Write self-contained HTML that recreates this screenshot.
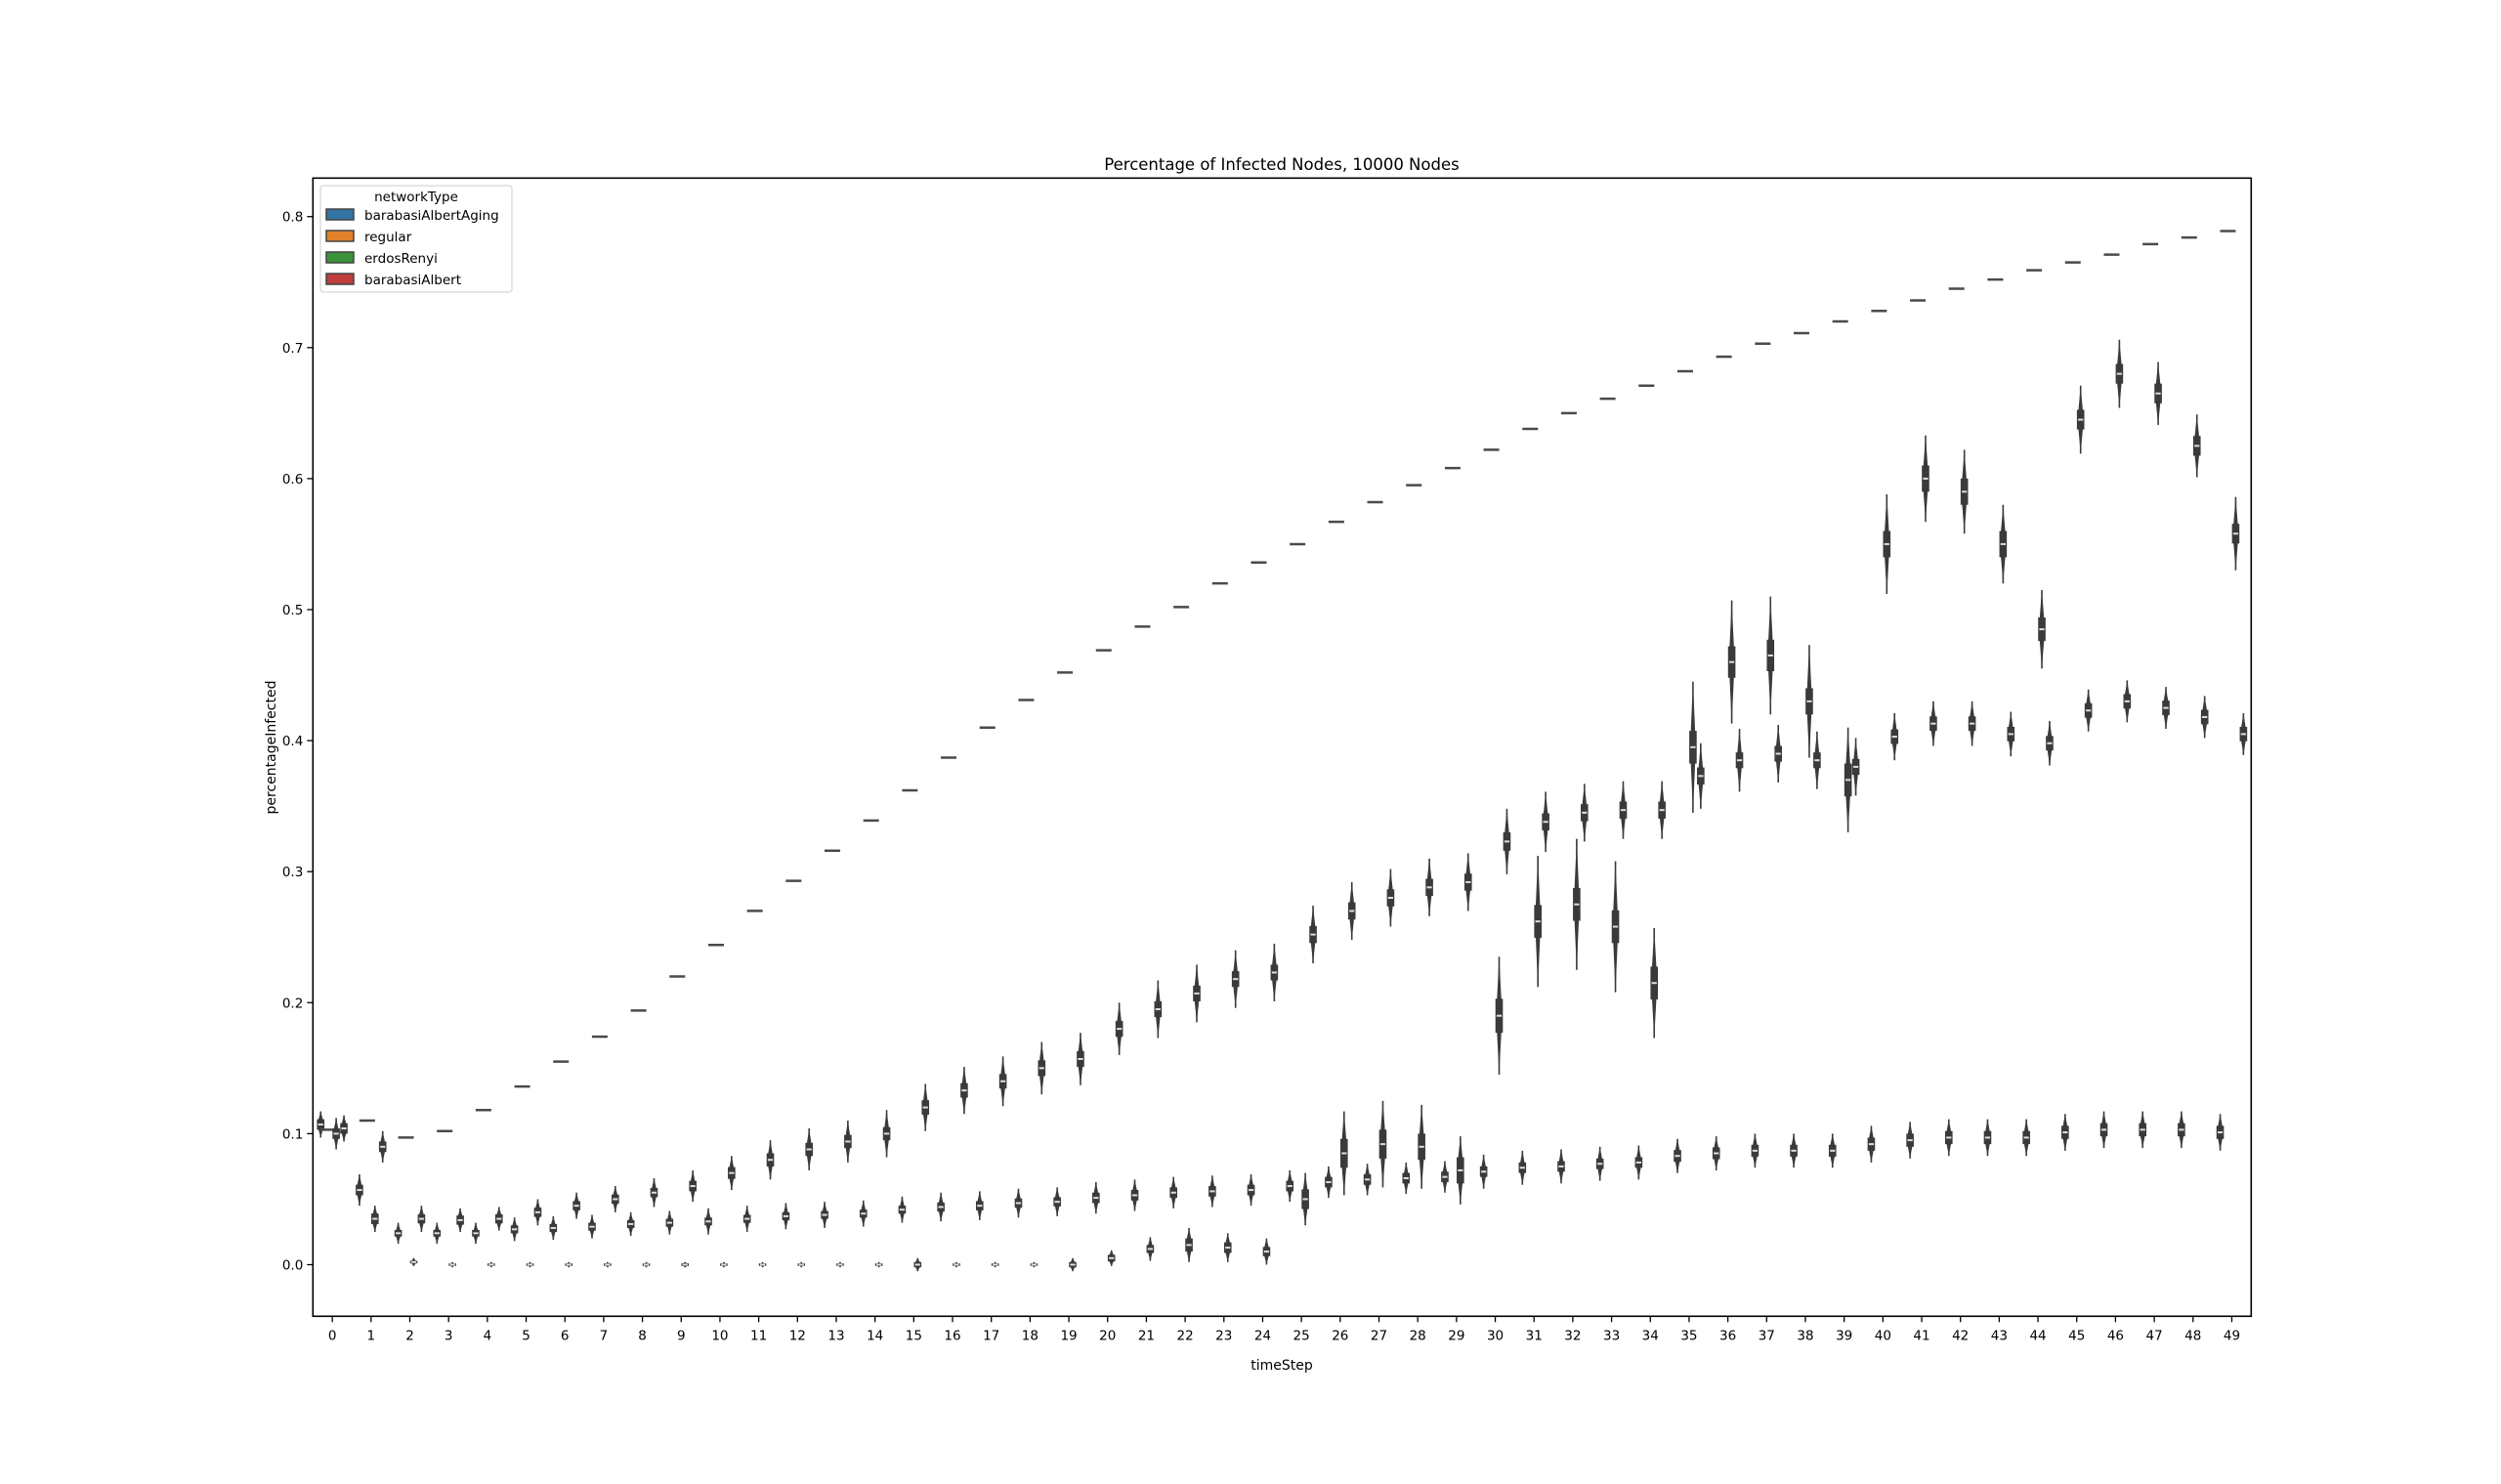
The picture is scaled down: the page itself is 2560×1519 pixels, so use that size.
<!DOCTYPE html>
<html><head><meta charset="utf-8"><style>
html,body{margin:0;padding:0;background:#fff;}
svg text{font-family:"DejaVu Sans","Liberation Sans",sans-serif;fill:#000;}
</style></head><body>
<svg id="chart" width="2560" height="1514" viewBox="0 0 2560 1514" xmlns="http://www.w3.org/2000/svg">
<rect x="0" y="0" width="2560" height="1514" fill="#fff"/>
<text x="1312" y="174" font-size="16.5" text-anchor="middle">Percentage of Infected Nodes, 10000 Nodes</text>
<g id="marks"></g>
<g id="axes"></g>
<rect x="320.3" y="182.3" width="1984" height="1165" fill="none" stroke="#000" stroke-width="1.6"/>
<text x="1312" y="1402" font-size="14" text-anchor="middle">timeStep</text>
<text x="0" y="0" font-size="14" text-anchor="middle" transform="translate(282,765) rotate(-90)">percentageInfected</text>
<g>
<rect x="328" y="190" width="196" height="109" rx="3" fill="#fff" stroke="#ccc" stroke-width="1"/>
<text x="426" y="206" font-size="13.5" text-anchor="middle">networkType</text>
<g><rect x="334" y="214" width="28" height="11" fill="#3274a1" stroke="#444" stroke-width="1.5"/><text x="373" y="225" font-size="13.5">barabasiAlbertAging</text></g>
<g><rect x="334" y="236" width="28" height="11" fill="#e1812c" stroke="#444" stroke-width="1.5"/><text x="373" y="247" font-size="13.5">regular</text></g>
<g><rect x="334" y="258" width="28" height="11" fill="#3a923a" stroke="#444" stroke-width="1.5"/><text x="373" y="269" font-size="13.5">erdosRenyi</text></g>
<g><rect x="334" y="280" width="28" height="11" fill="#c03d3e" stroke="#444" stroke-width="1.5"/><text x="373" y="291" font-size="13.5">barabasiAlbert</text></g>
</g>
</svg>
<script>
const timeSteps = Array.from({length:50},(_,i)=>String(i));
const yTicks = [0.0,0.1,0.2,0.3,0.4,0.5,0.6,0.7,0.8];
const yTickLabels = ["0.0","0.1","0.2","0.3","0.4","0.5","0.6","0.7","0.8"];
const seriesNames = ["barabasiAlbertAging","regular","erdosRenyi","barabasiAlbert"];

const blueMed = [0.107,0.057,0.024,0.024,0.024,0.027,0.028,0.029,0.031,0.032,0.033,0.035,0.037,0.038,0.039,0.042,0.044,0.045,0.047,0.048,0.051,0.053,0.055,0.056,0.057,0.06,0.063,0.065,0.066,0.067,0.071,0.074,0.075,0.077,0.078,0.083,0.085,0.087,0.087,0.087,0.092,0.095,0.097,0.097,0.097,0.101,0.103,0.103,0.103,0.101];
const blueIqr = [0.008,0.008,0.005,0.005,0.005,0.006,0.006,0.006,0.006,0.006,0.006,0.006,0.006,0.006,0.006,0.006,0.007,0.007,0.007,0.007,0.008,0.008,0.008,0.008,0.008,0.008,0.008,0.008,0.008,0.008,0.008,0.008,0.008,0.008,0.008,0.009,0.009,0.009,0.009,0.009,0.01,0.01,0.01,0.01,0.01,0.01,0.01,0.01,0.01,0.01];
const blueRange = [0.01,0.012,0.008,0.008,0.008,0.009,0.009,0.009,0.009,0.009,0.01,0.01,0.01,0.01,0.01,0.01,0.011,0.011,0.011,0.011,0.012,0.012,0.012,0.012,0.012,0.012,0.012,0.012,0.012,0.012,0.013,0.013,0.013,0.013,0.013,0.013,0.013,0.013,0.013,0.013,0.014,0.014,0.014,0.014,0.014,0.014,0.014,0.014,0.014,0.014];

const orangeMed = [0.103,0.11,0.097,0.102,0.118,0.136,0.155,0.174,0.194,0.22,0.244,0.27,0.293,0.316,0.339,0.362,0.387,0.41,0.431,0.452,0.469,0.487,0.502,0.52,0.536,0.55,0.567,0.582,0.595,0.608,0.622,0.638,0.65,0.661,0.671,0.682,0.693,0.703,0.711,0.72,0.728,0.736,0.745,0.752,0.759,0.765,0.771,0.779,0.784,0.789];

const greenMed = [0.1,0.035,0.002,0.0,0.0,0.0,0.0,0.0,0.0,0.0,0.0,0.0,0.0,0.0,0.0,0.0,0.0,0.0,0.0,0.0,0.005,0.012,0.015,0.013,0.01,0.05,0.085,0.092,0.09,0.072,0.19,0.262,0.275,0.258,0.215,0.395,0.46,0.465,0.43,0.37,0.55,0.6,0.59,0.55,0.485,0.645,0.68,0.665,0.625,0.558];
const greenIqr = [0.008,0.008,0.002,0.001,0.001,0.001,0.001,0.001,0.001,0.002,0.001,0.001,0.001,0.001,0.001,0.004,0.001,0.001,0.001,0.004,0.005,0.006,0.01,0.008,0.007,0.015,0.022,0.022,0.02,0.02,0.026,0.025,0.025,0.025,0.025,0.025,0.024,0.024,0.02,0.025,0.02,0.02,0.02,0.02,0.018,0.015,0.015,0.015,0.015,0.015];
const greenRange = [0.012,0.01,0.003,0.002,0.002,0.002,0.002,0.002,0.002,0.002,0.002,0.002,0.002,0.002,0.002,0.005,0.002,0.002,0.002,0.005,0.006,0.009,0.013,0.011,0.01,0.02,0.032,0.033,0.032,0.026,0.045,0.05,0.05,0.05,0.042,0.05,0.047,0.045,0.043,0.04,0.038,0.033,0.032,0.03,0.03,0.026,0.026,0.024,0.024,0.028];

const redMed = [0.104,0.09,0.035,0.034,0.035,0.04,0.045,0.05,0.055,0.06,0.07,0.08,0.088,0.094,0.1,0.12,0.133,0.14,0.15,0.157,0.18,0.195,0.207,0.218,0.223,0.252,0.27,0.28,0.288,0.292,0.323,0.338,0.345,0.347,0.347,0.373,0.385,0.39,0.385,0.38,0.403,0.413,0.413,0.405,0.398,0.423,0.43,0.425,0.418,0.405];
const redIqr = [0.008,0.008,0.007,0.007,0.007,0.007,0.007,0.007,0.007,0.008,0.009,0.01,0.01,0.01,0.01,0.011,0.011,0.011,0.012,0.012,0.012,0.012,0.012,0.012,0.012,0.013,0.013,0.013,0.013,0.013,0.014,0.013,0.013,0.013,0.013,0.013,0.012,0.012,0.012,0.012,0.011,0.011,0.011,0.011,0.011,0.011,0.011,0.011,0.011,0.011];
const redRange = [0.01,0.012,0.01,0.009,0.009,0.01,0.01,0.01,0.011,0.012,0.013,0.015,0.016,0.016,0.018,0.018,0.018,0.019,0.02,0.02,0.02,0.022,0.022,0.022,0.022,0.022,0.022,0.022,0.022,0.022,0.025,0.023,0.022,0.022,0.022,0.025,0.024,0.022,0.022,0.022,0.018,0.017,0.017,0.017,0.017,0.016,0.016,0.016,0.016,0.016];

const NS="http://www.w3.org/2000/svg";
const plotL=320.3, plotR=2304.3, plotB=1347.3;
function xScale(i){ return plotL + (i+0.5)*(plotR-plotL)/50; }
function yScale(v){ return 1294.5 - v*1341; }
const unit=(plotR-plotL)/50;
const marks=document.getElementById('marks');
const axes=document.getElementById('axes');
function mk(tag,attrs,parent){const e=document.createElementNS(NS,tag);for(const k in attrs)e.setAttribute(k,attrs[k]);parent.appendChild(e);return e;}

timeSteps.forEach((t,i)=>{
  const x=xScale(i);
  const tk=mk('line',{x1:x,x2:x,y1:plotB,y2:plotB+6,stroke:'#000','stroke-width':1.3},axes);
  
  
  const lb=mk('text',{x:x,y:plotB+24,'font-size':13.5,'text-anchor':'middle'},axes);
  
  
  lb.textContent=t;
});
yTicks.forEach((v,i)=>{
  const y=yScale(v);
  const tk=mk('line',{x1:plotL-6,x2:plotL,y1:y,y2:y,stroke:'#000','stroke-width':1.3},axes);
  
  
  const lb=mk('text',{x:plotL-10,y:y+5,'font-size':13.5,'text-anchor':'end'},axes);
  
  
  lb.textContent=yTickLabels[i];
});

function violin(i,off,med,iqr,rng,name){
  const x=xScale(i)+off*unit;
  const g=mk('g',{},marks);
  
  
  const top=yScale(med+rng), bot=yScale(med-rng);
  const q3=yScale(med+iqr/2), q1=yScale(med-iqr/2);
  const w=2.2;
  mk('path',{d:`M${x},${top} L${x+w},${q3} L${x+w},${q1} L${x},${bot} L${x-w},${q1} L${x-w},${q3} Z`,fill:'#3a3a3a'},g);
  mk('line',{x1:x,x2:x,y1:top,y2:bot,stroke:'#3a3a3a','stroke-width':1.6},g);
  const h=Math.max(q1-q3,2.5);
  mk('rect',{x:x-3.8,y:(q1+q3)/2-h/2,width:7.6,height:h,fill:'#3a3a3a'},g);
  mk('rect',{x:x-2.6,y:yScale(med)-1,width:5.2,height:2,fill:'#ddd'},g);
}
timeSteps.forEach((t,i)=>{
  violin(i,-0.3,blueMed[i],blueIqr[i],blueRange[i],'barabasiAlbertAging');
  const x=xScale(i)-0.1*unit, y=yScale(orangeMed[i]);
  const ln=mk('line',{x1:x-8,x2:x+8,y1:y,y2:y,stroke:'#4a4a4a','stroke-width':2.5},marks);
  
  
  violin(i,0.1,greenMed[i],greenIqr[i],greenRange[i],'erdosRenyi');
  violin(i,0.3,redMed[i],redIqr[i],redRange[i],'barabasiAlbert');
});
</script>
</body></html>
